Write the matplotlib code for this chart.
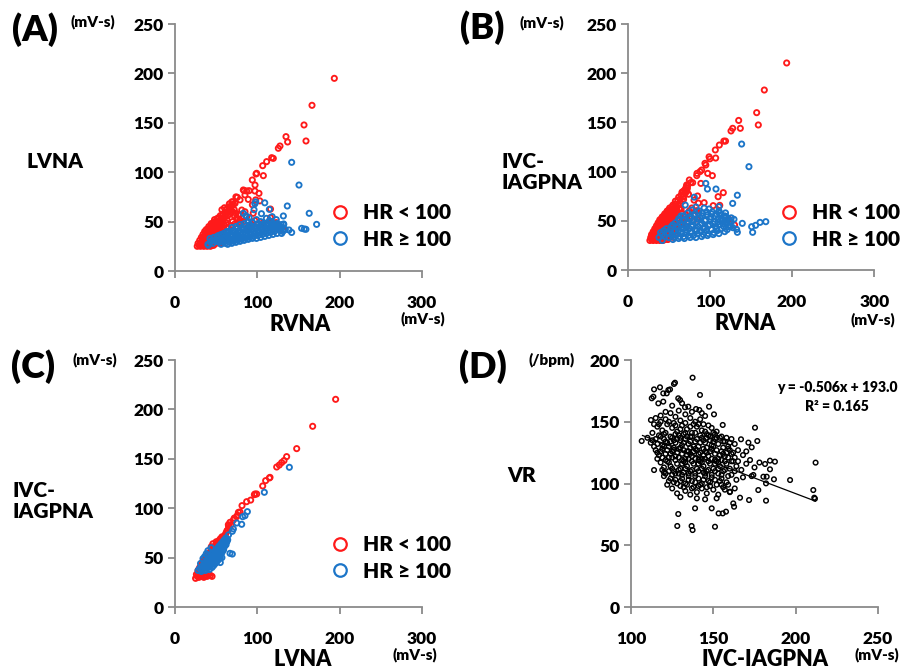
import matplotlib
matplotlib.use("Agg")
import matplotlib.pyplot as plt
from matplotlib.lines import Line2D

plt.rcParams['font.family'] = ['Lato', 'DejaVu Sans']
plt.rcParams['font.weight'] = 'bold'

RED = "#FF1A1A"
BLUE = "#1C75C8"
WEIGHT = "heavy"

# ---------------- data ----------------
# Panel A: RVNA (x) vs LVNA (y)
a_red = [
    (27,25),(29,26),(31,25),(33,26),(35,25),(37,26),(39,25),(41,26),(43,25),(45,26),(47,26),
    (28,28),(30,27),(32,29),(34,28),(36,29),(38,28),(40,29),(42,28),(44,29),(46,28),(48,29),(50,28),(52,29),(55,28),(58,29),
    (30,31),(33,30),(35,32),(37,31),(39,32),(41,31),(43,32),(45,31),(47,32),(49,31),(51,32),(53,31),(56,31),(60,30),
    (32,34),(34,33),(36,35),(38,34),(40,35),(42,34),(44,35),(46,34),(48,35),(50,34),(52,35),(54,34),(57,34),
    (34,37),(36,36),(38,38),(40,37),(42,38),(44,37),(46,38),(48,37),(50,38),(52,37),(54,38),(57,37),
    (36,40),(39,39),(41,41),(43,40),(45,41),(47,40),(49,41),(51,40),(53,41),(56,40),(59,42),
    (38,42),(41,43),(43,44),(45,43),(47,44),(49,43),(51,44),(53,43),(55,45),(58,44),
    (41,45),(44,46),(46,47),(48,46),(50,47),(52,46),(54,47),(56,48),(60,46),
    (44,48),(47,49),(49,50),(51,49),(53,50),(55,51),(58,50),(62,49),
    (48,52),(51,53),(53,54),(56,53),(59,54),(63,52),
    (55,56),(58,57),(60,59),(62,58),(64,60),(66,62),(63,63),(65,65),(67,64),(69,66),(68,62),
    (61,55),(64,56),(67,58),(70,60),(72,62),(66,68),(70,70),
    (57,62),(60,64),(72,56),(75,54),(78,57),(76,52),(70,50),(73,48),(80,49),(68,46),(65,44),
    (193.5,195),(166.4,167.7),(156.7,147.8),(159.1,131.6),(134.8,136),(136.8,130.6),(127.5,126.5),
    (125.5,124.2),(117.4,114.7),(119.4,114),(111.3,110.7),(106.5,106.6),(99.2,98.9),(98.4,98.2),
    (107.3,96.5),(93.9,92.1),(97.2,87),(83,82),(84,81.3),(87,81),(90,81.3),(97,81),(85,77),
    (102,78.6),(74,75),(75.7,74.6),(79,72),(89,72.5),(98,72),(103,71),(69,70),(71,67.5),(73,68.5),
    (81,61.7),(85,60),(95,58.4),(74,58.4),(77,56.7),(87,55),(79,51.6),(83,50),(97,51),(107,49),
    (116,54),(123,49),(116,62.7),(94,67),(131.6,41.5),(79,46.5),(89,45),
]
a_blue = [
    (40,27),(43,29),(46,28),(48,31),(50,30),(52,33),(54,29),(55,32),(57,35),(58,30),(60,33),(61,28),
    (62,36),(63,31),(65,34),(66,29),(67,37),(68,32),(70,35),(71,30),(72,39),(73,33),(75,36),(76,31),
    (77,40),(78,34),(80,37),(81,32),(82,42),(83,35),(85,38),(86,33),(87,41),(88,36),(90,39),(91,34),
    (92,44),(93,37),(95,40),(96,35),(97,43),(98,38),(100,41),(101,36),(102,45),(103,39),(105,42),
    (106,37),(107,46),(108,40),(110,43),(111,38),(112,47),(113,41),(115,44),(116,39),(117,48),
    (118,42),(120,45),(121,40),(122,47),(124,43),(126,46),(128,41),(130,44),(132,47),(134,42),
    (63,40),(69,44),(74,45),(79,47),(84,48),(89,50),(94,49),(99,52),(104,50),(86,56),(90,54),
    (45,31),(47,34),(51,35),(53,30),(56,37),(59,38),(61,34),(64,38),(66,40),(69,37),(71,41),(74,38),
    (76,43),(79,39),(81,44),(84,42),(86,46),(89,42),(91,47),(94,42),(96,45),(99,44),(101,48),(104,44),
    (106,47),(109,45),(111,48),(114,46),(116,50),(119,48),(121,44),(124,48),(127,44),(129,47),(131,40),
    (59,29),(64,27),(69,28),(74,29),(79,30),(84,31),(89,32),(94,33),(99,33),(104,34),(109,35),
    (114,36),(119,37),(124,38),
    (141.7,110),(150.6,87),(136.4,65.8),(163,58.4),(172,47.2),(153.8,43.2),(157,42.5),(159,42.2),
    (141.7,39),(138.5,41.5),(109,69),(98,70),(97,68),(114.6,62.4),(131.6,55.7),(126,45),(129.5,38),
    (132,47.6),(83,58.4),(111,53.3),(114.6,51),(96,62),(105,58),(118,55),(123,52),(100,47),(90,46),
    (70,32),(56,27),(53,36),(42.5,33),(40.5,26),
]

# Panel B: RVNA (x) vs IVC-IAGPNA (y)
b_red = [
    (27,30),(29,31),(31,30),(33,31),(35,30),(37,31),(39,30),(41,31),(43,30),(46,31),(49,31),
    (28,33),(30,34),(32,33),(34,34),(36,33),(38,34),(40,33),(42,34),(44,33),(47,34),(50,33),(53,34),(56,33),
    (29,36),(31,37),(33,36),(35,37),(37,36),(39,37),(41,36),(43,37),(45,36),(48,37),(51,36),(54,37),(57,36),
    (31,39),(33,40),(35,39),(37,40),(39,39),(41,40),(43,39),(45,40),(47,39),(50,40),(53,39),(56,40),
    (33,42),(35,43),(37,42),(39,43),(41,42),(43,43),(45,42),(47,43),(49,42),(52,43),(55,42),
    (35,45),(37,46),(39,45),(41,46),(43,45),(45,46),(47,45),(49,46),(51,45),(54,46),
    (37,48),(39,49),(41,48),(43,49),(45,48),(47,49),(49,48),(51,49),(54,48),(57,49),
    (39,51),(41,52),(43,51),(45,52),(47,51),(49,52),(51,51),(53,52),(56,51),
    (42,54),(44,55),(46,54),(48,55),(50,54),(52,55),(54,54),(57,55),
    (45,57),(47,58),(49,57),(51,58),(53,57),(56,58),(59,57),
    (48,60),(50,61),(52,60),(54,61),(57,60),(60,61),
    (51,63),(54,64),(57,63),(60,64),(63,62),
    (55,66),(58,67),(61,66),(64,68),
    (58,70),(61,71),(64,72),(67,70),
    (62,74),(65,76),(68,75),(70,78),(66,79),(69,81),(72,80),(71,84),(73,86),(68,72),(74,77),
    (60,52),(63,55),(66,58),(70,56),(75,60),(62,45),(67,48),(72,52),(78,63),(65,62),(60,43),(58,46),
    (193.4,210.4),(166.2,182.9),(156.9,159.9),(158.9,147.4),(135,152),(137,144),(127.7,144),
    (125.7,141.3),(117,131),(119,131),(111.5,127),(106.6,122),(107,113.8),(99,115),(100,113),
    (94,108.4),(95,106.7),(90,101.6),(88,100),(84.3,98.2),(84,95.9),(97.3,98.2),(103,95.9),
    (75,91.5),(76.6,88.8),(71.7,86.4),(72.6,83),(69.7,81.3),(67,79.6),(89,88),(85,75.2),(79,88.8),
    (116.3,78.6),(110,74.5),(80.7,71),(86,68),(93,68.4),(104,65.4),(112,65.7),(84,60.3),(86,57.6),
    (123,51.8),(130,45.7),(70,51.8),(76,55),(72,44),(84,51.8),
]
b_blue = [
    (38,33),(42,36),(45,34),(48,38),(50,33),(52,41),(54,35),(56,39),(57,33),(59,44),(60,36),(62,40),
    (63,34),(64,47),(66,37),(67,42),(68,34),(70,45),(71,38),(72,49),(74,35),(75,42),(76,52),(77,38),
    (79,46),(80,35),(81,55),(82,41),(84,49),(85,37),(86,44),(88,53),(89,39),(90,47),(91,58),(92,36),
    (94,43),(95,51),(96,40),(97,56),(98,37),(100,46),(101,54),(102,41),(103,59),(105,38),(106,49),
    (107,44),(108,57),(109,40),(110,52),(112,46),(113,56),(114,42),(115,50),(117,44),(118,55),
    (120,47),(121,41),(122,52),(124,45),(126,49),(128,43),(65,55),(73,58),(78,61),(87,60),(93,63),
    (99,62),(111,60),(119,58),(83,64),(58,48),(62,52),(68,55),
    (44,40),(47,42),(50,37),(53,44),(55,46),(58,40),(61,43),(63,50),(65,39),(67,46),(69,51),(71,41),
    (73,47),(75,54),(78,44),(80,50),(82,57),(84,40),(86,52),(88,46),(90,55),(92,42),(94,50),(96,59),
    (98,45),(100,52),(102,57),(104,47),(106,55),(108,42),(110,49),(112,58),(114,52),(116,47),(118,50),
    (120,54),(122,44),(124,50),(126,53),(55,31),(62,32),(69,32),(76,33),(83,33),(90,34),(97,35),
    (104,36),(111,37),(118,39),
    (138.6,128),(147.5,105),(133.4,76),(127.7,67.7),(95,88),(97,82.3),(107.4,82.3),(111,64.4),
    (129.3,51.5),(139.4,47.4),(150.8,44),(155.6,45.4),(161,48.4),(168,49.1),(133.4,38.3),(152,38.3),
    (125,44),(132.5,41.3),(40,38),(42,30),(81,74),(70,66),
]

# Panel C: LVNA (x) vs IVC-IAGPNA (y)
c_red = [
    (25,29),(27,31),(29,30),(31,32),(33,31),(35,30),(37,32),(39,31),(41,33),(43,32),(45,31),
    (28,34),(30,36),(26,33),
    (29,38),(31,41),(33,43),(34,46),(36,48),(38,50),(40,53),(42,55),(44,57),(46,59),(48,61),(50,63),
    (52,65),(54,66),(56,68),(58,70),(60,72),(62,75),(64,78),(66,80),(68,83),(65,82),(63,77),(61,73),
    (57,71),(55,69),(53,67),(51,64),(49,62),(47,60),(45,58),(43,56),(41,54),(39,52),(37,49),(35,47),
    (32,44),(30,40),(28,37),(46,64),(50,66),(44,61),
    (195.1,210.2),(167.2,182.9),(147.8,160.3),(135.6,152.2),(132.4,148.2),(129.6,146.2),(126.7,143.7),
    (123.5,141.7),(115.4,131.2),(114.6,130.6),(110.1,127.9),(106.5,122.5),(99.2,114.4),(97.2,114.4),
    (96.4,113.7),(91.9,108.2),(87,106.6),(81.4,102.6),(79,96.2),(77,95.8),(74.9,91.4),(70.9,88),
    (66.8,85.7),(64.8,83.3),(72,90),(76,93),
]
c_blue = [
    (28,37),(30,39),(32,36),(33,41),(34,38),(35,44),(36,40),(37,37),(38,46),(38,42),(39,39),(40,48),
    (40,44),(41,41),(42,50),(42,46),(42,38),(43,43),(44,52),(44,48),(45,40),(45,45),(46,54),(46,50),
    (47,42),(47,47),(48,56),(48,52),(49,44),(49,49),(50,58),(50,54),(51,46),(51,51),(52,60),(52,56),
    (53,48),(53,53),(54,62),(54,58),(55,50),(56,64),(56,60),(57,55),(58,66),(58,62),(59,58),(60,68),
    (61,64),(62,70),(63,66),(36,51),(38,54),(40,57),(44,60),(55,45),(57,50),(31,44),(34,49),
    (33,38),(35,41),(37,43),(39,45),(41,47),(43,49),(45,51),(47,53),(49,55),(51,57),(53,59),(55,61),
    (57,63),(59,65),(61,67),(37,40),(41,44),(45,48),(49,52),(53,56),(57,60),(46,44),(50,47),(54,52),
    (58,57),(60,61),(62,63),(64,68),(39,42),(43,46),
    (138.9,141.4),(108.5,116.1),(87.9,96.5),(85,92.4),(82.2,91.4),(81,83.7),(70.9,79),(69.6,76.6),
    (66.8,54.3),(69.6,53.6),(62.8,66.8),(56.7,59.4),(54.7,57),(53.8,51),(75,85),(65,73),
]

# Panel D: IVC-IAGPNA (x) vs VR (y)
d_pts = [
    (137.4,185.7),(126.7,181.6),(126.1,180.6),
    (122.7,175.7),(123.7,176.2),(117.6,177.9),(114,176.2),(112.6,169),(113.6,170.3),(119.6,173),
    (121.7,173),(141.9,171.7),(128.7,169),(129.8,167.6),
    (119.6,166.3),(116.6,164.9),(147.4,162.2),(132.8,161.7),(134.8,162.2),(139.5,160.3),(141.5,159.5),
    (125,163),(131,165),(137,158),(143,157),
    (150.4,156),(145,154.7),(112.1,151.4),(118,155),(121,152),(124,157),(127,154),(130,151),(133,156),
    (136,153),(139,150),(142,152),(118,150),(115,153),(121,158),(129,159),
    (155.7,147.4),(175.3,145.2),(116,146),(119,143),(122,148),(125,145),(128,142),(131,147),(134,144),
    (137,141),(140,146),(143,143),(146,140),(149,145),(152,142),(113,141),(120,140),(126,149),
    (132,140),(138,148),(144,148),(150,141),(117,148),
    (123,150),(127,147),(133,149),(136,146),(141,148),(147,147),(114,148),(130,144),
    (117,139),(121,141),(124,138),(127,140),(130,137),(133,141),(136,138),(139,141),(142,139),
    (145,142),(148,138),(151,140),(154,137),
    (176.7,134.4),(166.8,135.8),(171.3,133.1),(173.3,129.3),(106.5,134.4),(110,137),(113,135),
    (116,132),(118,138),(121,134),(123,130),(125,137),(127,133),(129,139),(131,131),(133,136),
    (135,132),(137,138),(139,134),(141,130),(143,137),(145,133),(147,139),(149,131),(151,136),
    (153,132),(155,138),(157,134),(159,130),(161,136),(163,132),(119,131),(128,136),(138,130),
    (148,135),(158,137),
    (112,133),(115,136),(120,136),(122,133),(124,134),(126,135),(130,135),(132,133),(134,138),
    (136,134),(140,136),(142,133),(144,135),(146,137),(150,134),(152,137),(156,134),(160,133),
    (115,127),(117,123),(119,128),(121,124),(123,121),(125,126),(127,122),(129,128),(131,124),
    (133,120),(135,126),(137,122),(139,128),(141,124),(143,120),(145,126),(147,122),(149,128),
    (151,124),(153,120),(155,126),(157,122),(159,128),(161,124),(163,121),(165,127),(168,123),
    (170,126),(126,129),(136,129),(146,129),(156,129),(134,123),(144,123),
    (114,130),(116,125),(118,126),(120,130),(122,127),(124,124),(126,127),(128,125),(130,129),
    (132,127),(134,126),(136,124),(138,126),(140,127),(142,125),(144,128),(146,125),(148,126),
    (150,130),(152,127),(154,123),(156,124),(158,125),(160,127),(162,125),
    (114,110.9),(184.4,118.5),(187.4,117.7),(181.4,115.8),(172.3,119),(184.4,111.5),(212.1,116.9),
    (118,117),(120,113),(122,118),(124,114),(126,110),(128,116),(130,112),(132,118),(134,114),
    (136,110),(138,116),(140,112),(142,118),(144,114),(146,110),(148,116),(150,112),(152,118),
    (154,114),(156,110),(158,116),(160,112),(162,118),(164,114),(167,111),(170,116),(175,113),
    (178,117),(131,119),(141,119),(151,119),
    (116,120),(119,121),(121,119),(123,117),(125,121),(127,119),(129,121),(131,116),(133,117),
    (135,120),(137,118),(139,120),(141,116),(143,117),(145,120),(147,118),(149,120),(151,116),
    (153,117),(155,119),(157,118),(159,121),(161,118),(165,118),
    (196.6,102.8),(180.4,105.5),(182.4,105.5),(186.8,103.4),(182,100.1),(174.3,106.9),(173.3,106),
    (120,106),(123,102),(125,107),(127,103),(129,108),(131,104),(133,100),(135,106),(137,102),
    (139,108),(141,104),(143,100),(145,106),(147,102),(149,107),(151,103),(153,108),(155,104),
    (158,101),(161,107),(164,103),(168,105),(120,109),(132,109),(144,109),
    (119,111),(121,108),(123,110),(125,112),(127,108),(129,111),(131,107),(133,112),(135,108),
    (137,111),(139,106),(141,110),(143,112),(145,108),(147,111),(149,105),(151,110),(153,112),
    (155,107),(157,111),(159,106),(163,110),
    (210.7,94.7),(211.3,88.5),(211.7,87.7),(177.3,94.7),(125,96),(128,92),(130,98),(133,94),
    (136,91),(138,97),(140,93),(143,96),(146,92),(148,98),(150,95),(153,91),(156,97),(160,93),
    (163,96),(166.2,88.5),(160.1,93.4),(134,99),(142,99),(155,99),
    (122,99),(124,104),(126,101),(128,100),(130,102),(132,97),(135,103),(137,96),(139,101),
    (141,98),(144,103),(146,97),(148,101),(152,99),(154,102),(157,95),(159,99),
    (182,86.1),(171.7,86.6),(162.1,83.9),(162.6,81.2),(157.7,77.2),(155.7,75.8),(153.2,75.8),
    (145,87.2),(149,79.9),(138.9,79.9),(128.7,75.3),(128.1,65.6),(136.8,65.6),(137.4,62.3),(151,65),
    (152,88),(140,88),(130,89),
]
d_slope = -0.506
d_intercept = 193.0
d_fit_range = [107, 212]

xticks_abc = [0, 100, 200, 300]
yticks_abc = [0, 50, 100, 150, 200, 250]
xticks_d = [100, 150, 200, 250]
yticks_d = [0, 50, 100, 150, 200]

# ---------------- figure ----------------
W, H = 906, 669
fig = plt.figure(figsize=(W / 100, H / 100), dpi=100)


def ax_at(x0, x1, y_top, y_bot):
    return fig.add_axes([x0 / W, 1 - y_bot / H, (x1 - x0) / W, (y_bot - y_top) / H])


def txt(px, py, s, size, ha="center", va="center", **kw):
    fig.text(px / W, 1 - py / H, s, fontsize=size, fontweight=WEIGHT, ha=ha, va=va, **kw)


def style(ax, xt, yt):
    for sp in ("top", "right"):
        ax.spines[sp].set_visible(False)
    for sp in ("left", "bottom"):
        ax.spines[sp].set_color("#8a8a8a")
        ax.spines[sp].set_linewidth(1.3)
    ax.set_xticks(xt)
    ax.set_yticks(yt)
    ax.set_xlim(xt[0], xt[-1])
    ax.set_ylim(yt[0], yt[-1])
    ax.tick_params(axis="both", color="#8a8a8a", width=1.3, length=5, direction="out",
                   labelsize=12.5, pad=3)
    ax.tick_params(axis="x", pad=12)
    for lab in ax.get_xticklabels() + ax.get_yticklabels():
        lab.set_fontweight(WEIGHT)
    ax.patch.set_alpha(0)


def scatter_pair(ax, red, blue):
    rx, ry = zip(*red)
    bx, by = zip(*blue)
    ax.scatter(rx, ry, s=14, facecolors="none", edgecolors=RED, linewidths=1.35, clip_on=False, zorder=3)
    ax.scatter(bx, by, s=14, facecolors="none", edgecolors=BLUE, linewidths=1.35, clip_on=False, zorder=4)


def legend(ax, px, py):
    h = [Line2D([], [], ls="", marker="o", mfc="none", mec=RED, ms=9, mew=1.6),
         Line2D([], [], ls="", marker="o", mfc="none", mec=BLUE, ms=9, mew=1.6)]
    ax.legend(h, ["HR < 100", "HR \u2265 100"], frameon=False, loc="center left",
              bbox_to_anchor=(px / W, 1 - py / H), bbox_transform=fig.transFigure,
              prop={"size": 15, "weight": WEIGHT}, handletextpad=0.6, labelspacing=0.35,
              handlelength=1.0, borderaxespad=0, borderpad=0)

# Panel A
axA = ax_at(175, 422, 24, 271)
style(axA, xticks_abc, yticks_abc)
scatter_pair(axA, a_red, a_blue)
legend(axA, 330, 226)
txt(35, 30, "(A)", 26)
txt(93, 22, "(mV-s)", 11)
txt(55, 162, "LVNA", 15)
txt(300, 324, "RVNA", 15.5)
txt(423, 319, "(mV-s)", 11)

# Panel B
axB = ax_at(627.7, 874.3, 24, 270)
style(axB, xticks_abc, yticks_abc)
scatter_pair(axB, b_red, b_blue)
legend(axB, 779, 226)
txt(482, 28, "(B)", 26)
txt(542, 23, "(mV-s)", 11)
txt(501, 172, "IVC-\nIAGPNA", 15, ha="left", linespacing=1.15)
txt(745, 323, "RVNA", 15.5)
txt(873, 320, "(mV-s)", 11)

# Panel C
axC = ax_at(175, 422, 360, 607)
style(axC, xticks_abc, yticks_abc)
scatter_pair(axC, c_red, c_blue)
legend(axC, 330, 558)
txt(33, 367, "(C)", 26)
txt(95, 360, "(mV-s)", 11)
txt(12, 501, "IVC-\nIAGPNA", 15, ha="left", linespacing=1.15)
txt(303, 659, "LVNA", 15.5)
txt(415, 655, "(mV-s)", 11)

# Panel D
axD = ax_at(631, 878, 360, 607)
style(axD, xticks_d, yticks_d)
dx, dy = zip(*d_pts)
axD.scatter(dx, dy, s=11, facecolors="none", edgecolors="black", linewidths=1.05, zorder=3)
fx = d_fit_range
axD.plot(fx, [d_slope * v + d_intercept for v in fx], color="black", lw=0.9, zorder=4)
txt(483, 367, "(D)", 26)
txt(552, 360, "(/bpm)", 11)
txt(522, 475, "VR", 15)
txt(765, 659, "IVC-IAGPNA", 15.5)
txt(877, 655, "(mV-s)", 11)
txt(837, 387, "y = -0.506x + 193.0", 10)
txt(837, 406, "R\u00b2 = 0.165", 10)

fig.savefig("out.png", dpi=100)
